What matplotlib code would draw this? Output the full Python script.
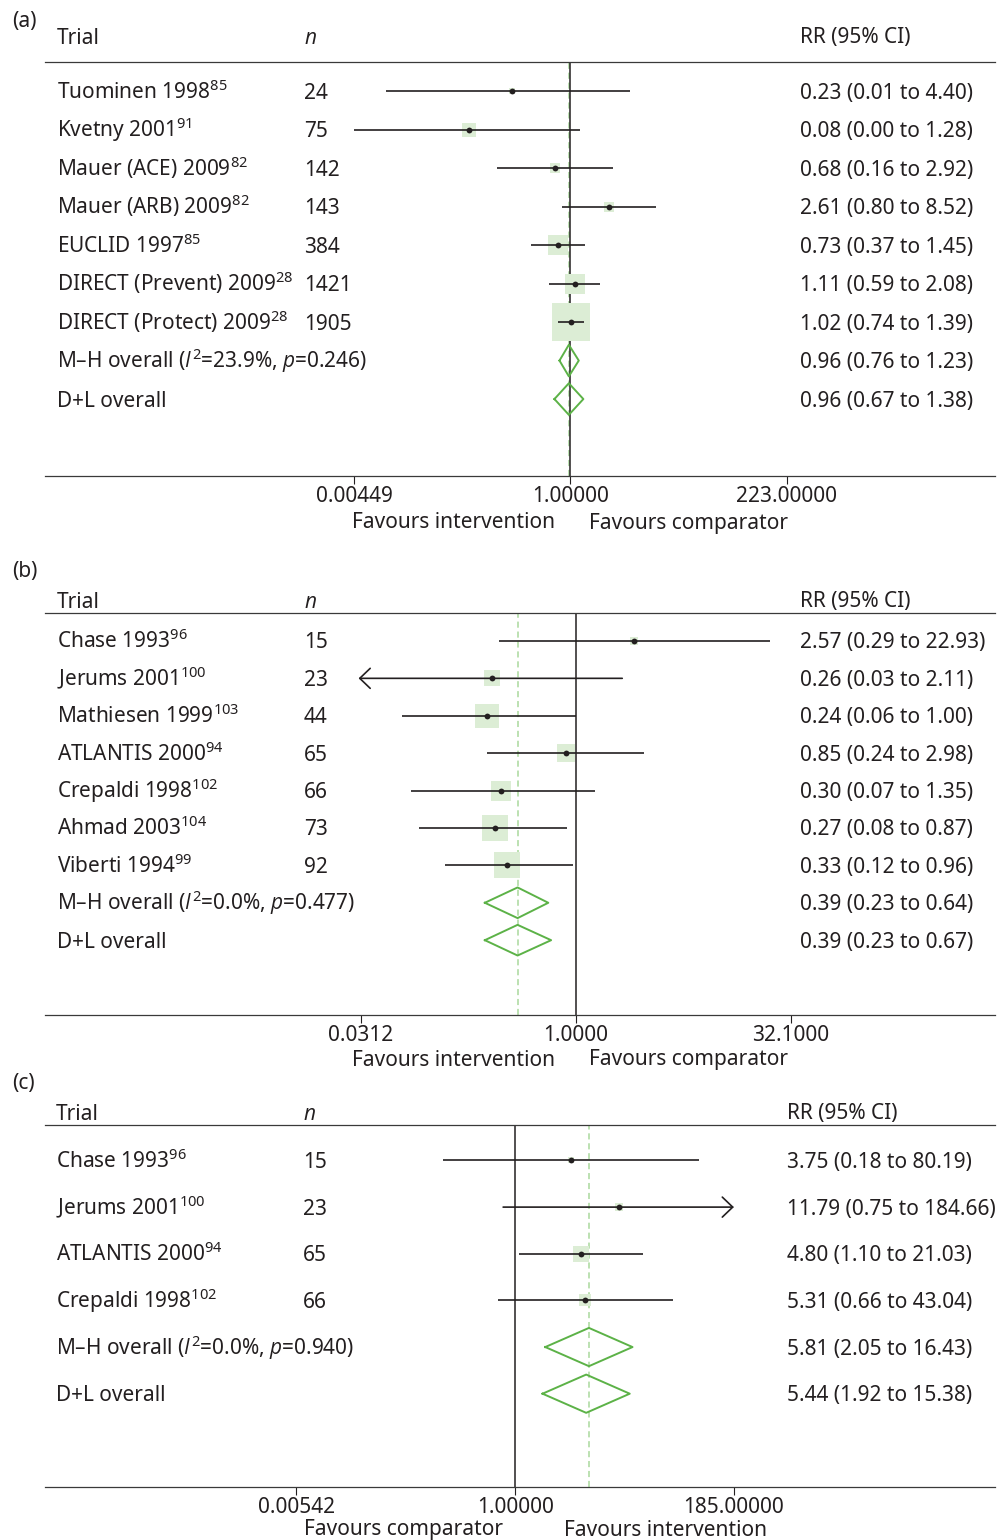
import numpy as np
import matplotlib
matplotlib.use("Agg")
import matplotlib.pyplot as plt
from matplotlib.transforms import ScaledTranslation

plt.rcParams['font.family'] = ['Noto Sans', 'DejaVu Sans']
plt.rcParams['mathtext.fontset'] = 'custom'
plt.rcParams['mathtext.rm'] = 'Noto Sans'
plt.rcParams['mathtext.it'] = 'Open Sans:italic'

# ---- panel (a) ----
a_trials = ['Tuominen 1998$^{85}$', 'Kvetny 2001$^{91}$', 'Mauer (ACE) 2009$^{82}$',
            'Mauer (ARB) 2009$^{82}$', 'EUCLID 1997$^{85}$',
            'DIRECT (Prevent) 2009$^{28}$', 'DIRECT (Protect) 2009$^{28}$']
a_n = [24, 75, 142, 143, 384, 1421, 1905]
a_rr = [0.23, 0.08, 0.68, 2.61, 0.73, 1.11, 1.02]
a_lo = [0.01, 0.00449, 0.16, 0.80, 0.37, 0.59, 0.74]
a_hi = [4.40, 1.28, 2.92, 8.52, 1.45, 2.08, 1.39]
a_weight = [1.7, 6.6, 4.4, 3.6, 15.5, 15.0, 53.1]
a_arrow = [None] * 7
a_mh = (0.96, 0.76, 1.23)
a_mh_i2, a_mh_p = '23.9', '0.246'
a_dl = (0.96, 0.67, 1.38)
a_ticks = [0.00449, 1.0, 223.0]
a_ticklabels = ['0.00449', '1.00000', '223.00000']

# ---- panel (b) ----
b_trials = ['Chase 1993$^{96}$', 'Jerums 2001$^{100}$', 'Mathiesen 1999$^{103}$',
            'ATLANTIS 2000$^{94}$', 'Crepaldi 1998$^{102}$', 'Ahmad 2003$^{104}$',
            'Viberti 1994$^{99}$']
b_n = [15, 23, 44, 65, 66, 73, 92]
b_rr = [2.57, 0.26, 0.24, 0.85, 0.30, 0.27, 0.33]
b_lo = [0.29, 0.03, 0.06, 0.24, 0.07, 0.08, 0.12]
b_hi = [22.93, 2.11, 1.00, 2.98, 1.35, 0.87, 0.96]
b_weight = [1.8, 8.1, 18.9, 10.3, 14.3, 22.4, 24.2]
b_arrow = [None, 'left', None, None, None, None, None]
b_mh = (0.39, 0.23, 0.64)
b_mh_i2, b_mh_p = '0.0', '0.477'
b_dl = (0.39, 0.23, 0.67)
b_ticks = [0.0312, 1.0, 32.1]
b_ticklabels = ['0.0312', '1.0000', '32.1000']

# ---- panel (c) ----
c_trials = ['Chase 1993$^{96}$', 'Jerums 2001$^{100}$', 'ATLANTIS 2000$^{94}$',
            'Crepaldi 1998$^{102}$']
c_n = [15, 23, 65, 66]
c_rr = [3.75, 11.79, 4.80, 5.31]
c_lo = [0.18, 0.75, 1.10, 0.66]
c_hi = [80.19, 184.66, 21.03, 43.04]
c_weight = [7.9, 11.6, 53.9, 26.5]
c_arrow = [None, 'right', None, None]
c_mh = (5.81, 2.05, 16.43)
c_mh_i2, c_mh_p = '0.0', '0.940'
c_dl = (5.44, 1.92, 15.38)
c_ticks = [0.00542, 1.0, 185.0]
c_ticklabels = ['0.00542', '1.00000', '185.00000']

W, H = 998, 1540
FS = 15
INK = '#231f20'
BOX = '#dcedd5'
DIAMOND = '#5cb247'
DASH = '#a9d89c'

fig = plt.figure(figsize=(W / 100, H / 100), dpi=100)


def fig_text(x, y, s, **kw):
    # x, y in pixels from the top-left corner; y is the middle of the capitals
    t = fig.text(x / W, 1 - y / H, s, fontsize=kw.pop('fontsize', FS), color=INK,
                 va='baseline', **kw)
    t.set_transform(t.get_transform() +
                    ScaledTranslation(0, -0.36 * FS / 72, fig.dpi_scale_trans))
    return t


def row_text(ax, x, row, s, **kw):
    tr = ax.get_yaxis_transform() + ScaledTranslation(0, -0.36 * FS / 72, fig.dpi_scale_trans)
    ax.text((x - 45) / 950, row, s, transform=tr, fontsize=FS, color=INK,
            va='baseline', ha='left', **kw)


def rr_label(est, lo, hi):
    return f'{est:.2f} ({lo:.2f} to {hi:.2f})'


def forest(top, bottom, tick_px, ticks, ticklabels, trials, n, rr, lo, hi, weight,
           arrows, mh, mh_i2, mh_p, dl, box_scale, n_x, rr_x, trial_x):
    ax = fig.add_axes([45 / W, 1 - bottom / H, 950 / W, (bottom - top) / H])
    ax.set_xscale('log')
    # put the outer ticks at their pixel positions
    ppl = (tick_px[1] - tick_px[0]) / (np.log(ticks[-1]) - np.log(ticks[0]))
    one_px = tick_px[0] - np.log(ticks[0]) * ppl
    ax.set_xlim(np.exp((45 - one_px) / ppl), np.exp((995 - one_px) / ppl))
    nrows = len(trials) + 2
    ax.set_ylim(nrows + 1, -0.76)

    ax.axvline(1.0, color=INK, lw=1.1, zorder=2)
    ax.axvline(mh[0], color=DASH, lw=1.1, ls=(0, (4, 2.5)), zorder=1)

    for i in range(len(trials)):
        side = box_scale * np.sqrt(weight[i])
        ax.plot(rr[i], i, marker='s', ms=side * 0.72, mew=0, color=BOX, zorder=3)
        if arrows[i] is None:
            ax.plot([lo[i], hi[i]], [i, i], color=INK, lw=1.2, solid_capstyle='butt', zorder=4)
        else:
            tip, tail = (lo[i], hi[i]) if arrows[i] == 'left' else (hi[i], lo[i])
            ax.annotate('', xy=(tip, i), xytext=(tail, i),
                        arrowprops=dict(arrowstyle='->,head_length=0.75,head_width=0.72',
                                        color=INK, lw=1.2, shrinkA=0, shrinkB=0,
                                        mutation_scale=10), zorder=4)
        ax.plot(rr[i], i, marker='o', ms=4.2, mew=0, color=INK, zorder=5)
        row_text(ax, trial_x, i, trials[i])
        row_text(ax, n_x, i, str(n[i]))
        row_text(ax, rr_x, i, rr_label(rr[i], lo[i], hi[i]))

    k = len(trials)
    for j, (est, l, h) in enumerate([mh, dl]):
        y = k + j
        ax.plot([l, est, h, est, l], [y, y - 0.41, y, y + 0.41, y], color=DIAMOND,
                lw=1.4, zorder=4)
        row_text(ax, rr_x, y, rr_label(est, l, h))
    row_text(ax, trial_x, k, 'M–H overall ($\\mathit{I}^{2}$=' + mh_i2 + '%, $\\mathit{p}$=' + mh_p + ')')
    row_text(ax, trial_x, k + 1, 'D+L overall')

    ax.set_xticks(ticks, ticklabels)
    ax.xaxis.set_minor_locator(matplotlib.ticker.NullLocator())
    ax.tick_params(axis='x', direction='out', length=5.8, width=0.8, color=INK,
                   labelsize=FS, labelcolor=INK, pad=1.5)
    ax.set_yticks([])
    for s in ['left', 'right']:
        ax.spines[s].set_visible(False)
    for s in ['top', 'bottom']:
        ax.spines[s].set_color('#3a3a3a')
        ax.spines[s].set_linewidth(0.9)
    ax.patch.set_alpha(0)
    return ax


# (a)
fig_text(12, 20, '(a)')
fig_text(57, 36, 'Trial')
fig_text(304, 36, 'n', style='italic', family=['Open Sans', 'DejaVu Sans'])
fig_text(800, 36, 'RR (95% CI)')
forest(62, 476, (354, 787), a_ticks, a_ticklabels, a_trials, a_n, a_rr, a_lo, a_hi,
       a_weight, a_arrow, a_mh, a_mh_i2, a_mh_p, a_dl, 5.1, 304, 800, 57)
fig_text(555, 521, 'Favours intervention', ha='right')
fig_text(589, 521, 'Favours comparator', ha='left')

# (b)
fig_text(12, 569, '(b)')
fig_text(57, 600, 'Trial')
fig_text(304, 600, 'n', style='italic', family=['Open Sans', 'DejaVu Sans'])
fig_text(800, 600, 'RR (95% CI)')
forest(612.5, 1015, (361, 791), b_ticks, b_ticklabels, b_trials, b_n, b_rr, b_lo, b_hi,
       b_weight, b_arrow, b_mh, b_mh_i2, b_mh_p, b_dl, 5.3, 304, 800, 57)
fig_text(555, 1058, 'Favours intervention', ha='right')
fig_text(589, 1058, 'Favours comparator', ha='left')

# (c)
fig_text(12, 1082, '(c)')
fig_text(56, 1112, 'Trial')
fig_text(303, 1112, 'n', style='italic', family=['Open Sans', 'DejaVu Sans'])
fig_text(787, 1112, 'RR (95% CI)')
forest(1125, 1487, (296.5, 734), c_ticks, c_ticklabels, c_trials, c_n, c_rr, c_lo, c_hi,
       c_weight, c_arrow, c_mh, c_mh_i2, c_mh_p, c_dl, 2.15, 303, 787, 56)
fig_text(503, 1528, 'Favours comparator', ha='right')
fig_text(564, 1528, 'Favours intervention', ha='left')

fig.savefig('out.png', dpi=100)
